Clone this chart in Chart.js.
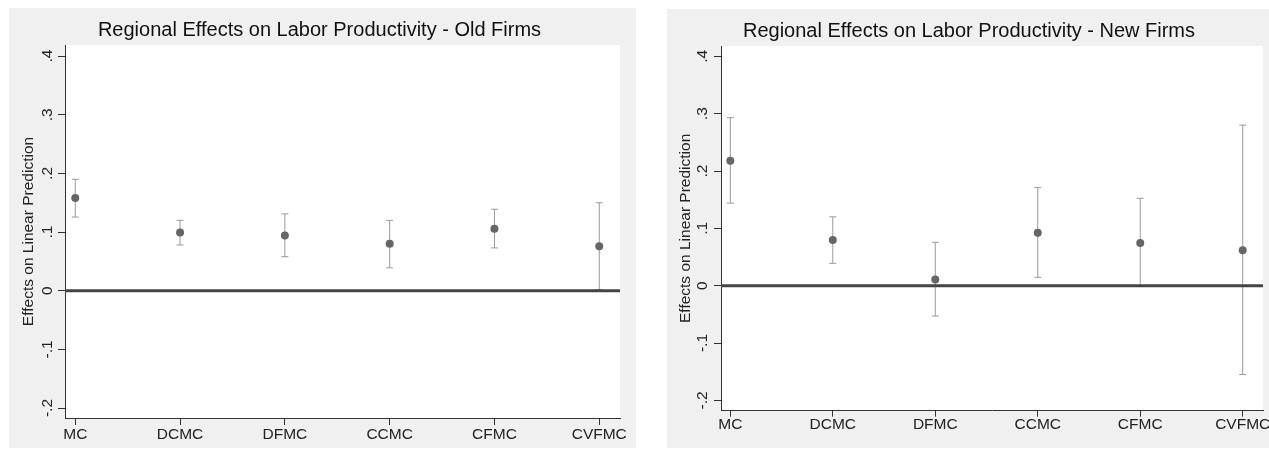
<!DOCTYPE html>
<html>
<head>
<meta charset="utf-8">
<script src="https://cdn.jsdelivr.net/npm/chart.js@4.4.0/dist/chart.umd.min.js"></script>
<style>
    body { margin: 0; background: #fff; width: 1269px; height: 449px; overflow: hidden; position: relative; }
    .panel { position: absolute; background: #f0f0f0; }
    #p1 { left: 9px; top: 8px; width: 627px; height: 440px; }
    #p2 { left: 667px; top: 9px; width: 602px; height: 439px; }
    canvas { display: block; }
</style>
</head>
<body>
<div class="panel" id="p1"><canvas id="oldChart" width="627" height="440"></canvas></div>
<div class="panel" id="p2"><canvas id="newChart" width="602" height="439"></canvas></div>
<script>
// Data
const categories = ['MC', 'DCMC', 'DFMC', 'CCMC', 'CFMC', 'CVFMC'];
const yTicks = [-0.2, -0.1, 0, 0.1, 0.2, 0.3, 0.4];
const yTickLabels = ['-.2', '-.1', '0', '.1', '.2', '.3', '.4'];

// Old firms: estimate and confidence interval
const oldEst = [0.158, 0.0995, 0.094, 0.080, 0.1056, 0.076];
const oldLo  = [0.1256, 0.078, 0.058, 0.039, 0.073, 0.002];
const oldHi  = [0.190, 0.120, 0.131, 0.120, 0.139, 0.150];

// New firms
const newEst = [0.218, 0.0798, 0.011, 0.0925, 0.0745, 0.062];
const newLo  = [0.144, 0.039, -0.053, 0.0146, -0.001, -0.155];
const newHi  = [0.293, 0.120, 0.0757, 0.171, 0.1525, 0.280];

Chart.defaults.font.family = '"Liberation Sans", Arial, sans-serif';

// white plot area + vertical y tick labels (Stata style)
const plotDecor = {
    id: 'plotDecor',
    beforeDraw(chart) {
        const a = chart.chartArea;
        const ctx = chart.ctx;
        ctx.save();
        ctx.fillStyle = '#fff';
        ctx.fillRect(a.left, a.top, a.right - a.left, a.bottom - a.top);
        ctx.restore();
    },
    afterDraw(chart, args, opts) {
        const a = chart.chartArea;
        const ctx = chart.ctx;
        const y = chart.scales.y;
        ctx.save();
        ctx.fillStyle = '#222';
        ctx.font = '15.5px "Liberation Sans", Arial, sans-serif';
        ctx.textAlign = 'center';
        ctx.textBaseline = 'middle';
        yTicks.forEach((v, i) => {
            ctx.save();
            ctx.translate(a.left - opts.gap, y.getPixelForValue(v));
            ctx.rotate(-Math.PI / 2);
            ctx.fillText(yTickLabels[i], 0, 0);
            ctx.restore();
        });
        ctx.restore();
    }
};

function buildChart(id, title, est, lo, hi, box) {
    const points = est.map((v, i) => ({ x: i + 1, y: v }));
    const bars = [];
    lo.forEach((v, i) => {
        bars.push({ x: i + 1, y: v }, { x: i + 1, y: hi[i] }, { x: i + 1, y: null });
    });

    return new Chart(document.getElementById(id), {
        type: 'scatter',
        data: {
            datasets: [
                {
                    data: points,
                    pointRadius: 4,
                    pointBackgroundColor: '#666',
                    pointBorderWidth: 0,
                    order: 0
                },
                {
                    data: [{ x: box.xMin, y: 0 }, { x: box.xMax, y: 0 }],
                    showLine: true,
                    borderColor: '#444',
                    borderWidth: 3,
                    pointRadius: 0,
                    order: 1
                },
                {
                    data: bars,
                    showLine: true,
                    spanGaps: false,
                    borderColor: '#999',
                    borderWidth: 1,
                    pointStyle: 'line',
                    pointRadius: 3.5,
                    pointBorderColor: '#999',
                    pointBorderWidth: 1,
                    order: 2
                }
            ]
        },
        options: {
            responsive: false,
            devicePixelRatio: 1,
            animation: false,
            events: [],
            layout: { padding: { top: 0, left: box.left, bottom: 0, right: box.right } },
            plugins: {
                legend: { display: false },
                tooltip: { enabled: false },
                title: {
                    display: true,
                    text: title,
                    color: '#111',
                    font: { size: 20, weight: 'normal' },
                    padding: { top: 10, bottom: 3 }
                },
                plotDecor: { gap: box.gap }
            },
            scales: {
                x: {
                    type: 'linear',
                    min: box.xMin,
                    max: box.xMax,
                    afterBuildTicks: s => { s.ticks = categories.map((c, i) => ({ value: i + 1 })); },
                    afterFit: s => { s.height = box.xH; s.paddingLeft = 0; s.paddingRight = 0; },
                    grid: { drawOnChartArea: false, drawTicks: true, tickLength: box.tick, color: '#333' },
                    border: { display: true, color: '#333', width: 1 },
                    ticks: {
                        color: '#222',
                        font: { size: 15.5 },
                        padding: box.tickPad,
                        maxRotation: 0,
                        autoSkip: false,
                        callback: v => categories[Math.round(v) - 1] || ''
                    }
                },
                y: {
                    type: 'linear',
                    min: box.yMin,
                    max: box.yMax,
                    afterBuildTicks: s => { s.ticks = yTicks.map(v => ({ value: v })); },
                    afterFit: s => { s.width = box.yW; s.paddingTop = 0; s.paddingBottom = 0; },
                    grid: { drawOnChartArea: false, drawTicks: true, tickLength: 7, color: '#333' },
                    border: { display: true, color: '#333', width: 1 },
                    ticks: { display: false },
                    title: {
                        display: true,
                        text: 'Effects on Linear Prediction',
                        color: '#222',
                        font: { size: 15.5 },
                        padding: { top: box.yTitlePad, bottom: 0 }
                    }
                }
            }
        },
        plugins: [plotDecor]
    });
}

buildChart('oldChart', 'Regional Effects on Labor Productivity - Old Firms', oldEst, oldLo, oldHi, {
    xMin: 0.902, xMax: 6.198, yMin: -0.217, yMax: 0.419,
    left: 10, yW: 46, xH: 30, right: 16, tick: 7, tickPad: 0, yTitlePad: 0.3, gap: 17.7
});

buildChart('newChart', 'Regional Effects on Labor Productivity - New Firms', newEst, newLo, newHi, {
    xMin: 0.909, xMax: 6.198, yMin: -0.218, yMax: 0.418,
    left: 8, yW: 46, xH: 37.3, right: 6, tick: 6, tickPad: -1, yTitlePad: 1, gap: 18
});
</script>
</body>
</html>
